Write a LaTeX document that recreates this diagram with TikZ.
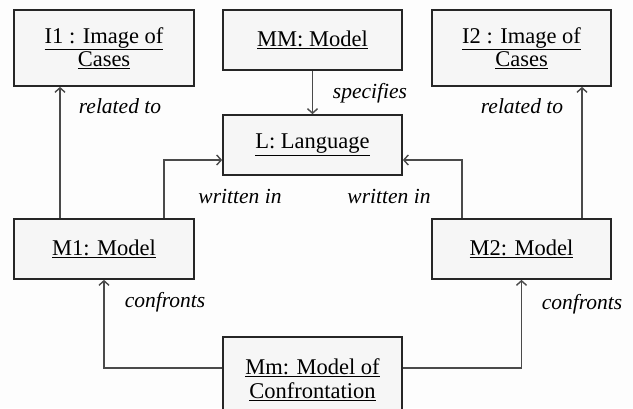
\documentclass[tikz,border=0pt]{standalone}
\usepackage{fontspec}
\setmainfont{Liberation Serif}
\usetikzlibrary{arrows.meta}
\definecolor{boxfill}{HTML}{F6F6F6}
\definecolor{pagebg}{HTML}{FDFDFD}
\definecolor{linkcol}{HTML}{4A4A4A}
\begin{document}
\begin{tikzpicture}[x=1bp,y=-1bp,
  objbox/.style={draw=black!85, line width=1.7bp, fill=boxfill, rectangle,
    inner sep=0pt, align=center,
    font=\fontsize{22.5bp}{23bp}\selectfont},
  link/.style={draw=linkcol, line width=1.8bp,
    -{Straight Barb[length=4.5bp,width=10bp,line width=1.4bp]}},
  tag/.style={anchor=base, inner sep=0pt,
    font=\fontsize{21.5bp}{24bp}\selectfont\itshape}]
  % page
  \fill[pagebg] (0,0) rectangle (633,408);
  \useasboundingbox (0,0) rectangle (633,408);

  % objects
  \node[objbox, minimum width=180bp, minimum height=76bp] (I1) at (104,48)
    {\underline{I1 : Image of}\\\underline{Cases}};
  \node[objbox, minimum width=179bp, minimum height=60bp] (MM) at (312.5,40)
    {\underline{MM: Model}};
  \node[objbox, minimum width=179bp, minimum height=76bp] (I2) at (521.5,48)
    {\underline{I2 : Image of}\\\underline{Cases}};
  \node[objbox, minimum width=179bp, minimum height=60bp] (L) at (312.5,145)
    {\underline{L: Language}};
  \node[objbox, minimum width=180bp, minimum height=60bp] (M1) at (104,249)
    {\underline{M1: Model}};
  \node[objbox, minimum width=179bp, minimum height=60bp] (M2) at (521.5,249)
    {\underline{M2: Model}};
  \node[objbox, minimum width=179bp, minimum height=86bp,
    font=\fontsize{22.5bp}{24bp}\selectfont] (Mm) at (312.5,380)
    {\underline{Mm: Model of}\\\underline{Confrontation}};

  % links
  \draw[link] ([xshift=-44bp]M1.north) -- ([xshift=-44bp]I1.south);
  \draw[link] ([xshift=60bp]M1.north) |- ([yshift=-15bp]L.west);
  \draw[link] (MM.south) -- (L.north);
  \draw[link] ([xshift=-59.5bp]M2.north) |- ([yshift=-15bp]L.east);
  \draw[link] ([xshift=60.5bp]M2.north) -- ([xshift=60.5bp]I2.south);
  \draw[link] ([yshift=12bp]Mm.west) -| (M1.south);
  \draw[link] ([yshift=12bp]Mm.east) -| (M2.south);

  % link labels
  \node[tag] (t1) at (120,113) {related to};
  \node[tag] (t2) at (370,98) {specifies};
  \node[tag] (t3) at (522,113) {related to};
  \node[tag] (t4) at (240,203) {written in};
  \node[tag] (t5) at (389,203) {written in};
  \node[tag] (t6) at (165,307) {confronts};
  \node[tag] (t7) at (582,309) {confronts};
\end{tikzpicture}
\end{document}
